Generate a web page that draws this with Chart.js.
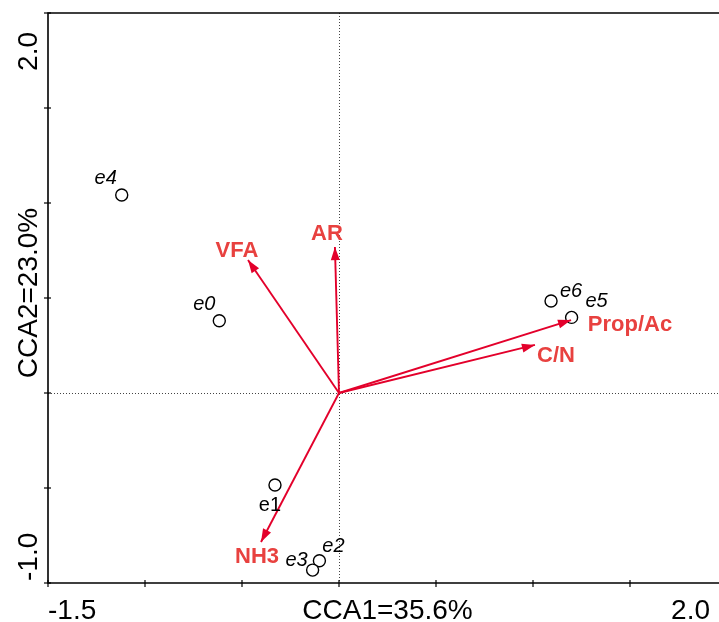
<!DOCTYPE html>
<html>
<head>
<meta charset="utf-8">
<script src="https://cdn.jsdelivr.net/npm/chart.js@4.4.1/dist/chart.umd.min.js"></script>
<style>
html,body{margin:0;padding:0;background:#fff;overflow:hidden;width:719px;height:622px;}
#wrap{width:740px;height:622px;}
canvas{display:block;}
</style>
</head>
<body>
<div id="wrap"><canvas id="c" width="740" height="622"></canvas></div>
<script>
// ---- data ----
const sites = ['e0','e1','e2','e3','e4','e5','e6'];
const siteX = [-0.617, -0.330, -0.101, -0.136, -1.120, 1.199, 1.093];
const siteY = [0.380, -0.484, -0.883, -0.932, 1.042, 0.398, 0.484];

const envVars = ['VFA','AR','Prop/Ac','C/N','NH3'];
const envX = [-0.469, -0.021, 1.196, 1.010, -0.402];
const envY = [0.700, 0.768, 0.384, 0.253, -0.784];

const xTicks = [-1.5, -1.0, -0.5, 0, 0.5, 1.0, 1.5, 2.0];
const yTicks = [-1.0, -0.5, 0, 0.5, 1.0, 1.5, 2.0];
const xTickLabels = ['-1.5', '2.0'];
const yTickLabels = ['-1.0', '2.0'];
const xTitle = 'CCA1=35.6%';
const yTitle = 'CCA2=23.0%';

// ---- styles (label offsets in px) ----
const siteLabelOffset = {e0:[-15,-16], e1:[-5,21], e2:[14,-14], e3:[-16,-10], e4:[-16,-17], e5:[25,-16], e6:[20,-10]};
const siteUpright = {e1:true};
const envLabelOffset = {'VFA':[-11,-9], 'AR':[-8,-13], 'Prop/Ac':[59,5], 'C/N':[21,11], 'NH3':[-4,15]};
const ARROW = '#e3002b';
const ENVTXT = '#e8413f';
const FONT = '"Liberation Sans", Arial, sans-serif';

const datasets = [];
envVars.forEach((n,i)=>{
  datasets.push({
    label: n, type:'scatter', showLine:true,
    data:[{x:0,y:0},{x:envX[i],y:envY[i]}],
    borderColor: ARROW, borderWidth: 1.9, pointRadius:0, fill:false
  });
});
datasets.push({
  label:'sites', type:'scatter',
  data: sites.map((s,i)=>({x:siteX[i], y:siteY[i]})),
  pointRadius:6, pointBackgroundColor:'#fff', pointBorderColor:'#000', pointBorderWidth:1.4
});

const decor = {
  id:'decor',
  beforeDatasetsDraw(chart){
    const {ctx, chartArea:a, scales:{x,y}} = chart;
    ctx.save();
    ctx.strokeStyle = '#444'; ctx.lineWidth = 1; ctx.setLineDash([1,2]);
    const x0 = Math.round(x.getPixelForValue(0))+0.5;
    const y0 = Math.round(y.getPixelForValue(0))+0.5;
    ctx.beginPath(); ctx.moveTo(x0, a.top); ctx.lineTo(x0, a.bottom); ctx.stroke();
    ctx.beginPath(); ctx.moveTo(a.left, y0); ctx.lineTo(a.right, y0); ctx.stroke();
    ctx.restore();
  },
  afterDatasetsDraw(chart){
    const {ctx, chartArea:a, scales:{x,y}} = chart;
    ctx.save();
    // arrowheads
    const ox = x.getPixelForValue(0), oy = y.getPixelForValue(0);
    envVars.forEach((n,i)=>{
      const tx = x.getPixelForValue(envX[i]), ty = y.getPixelForValue(envY[i]);
      const ang = Math.atan2(ty-oy, tx-ox);
      const L = 13, W = 4.5;
      ctx.fillStyle = ARROW;
      ctx.beginPath();
      ctx.moveTo(tx, ty);
      ctx.lineTo(tx - L*Math.cos(ang) + W*Math.sin(ang), ty - L*Math.sin(ang) - W*Math.cos(ang));
      ctx.lineTo(tx - L*Math.cos(ang) - W*Math.sin(ang), ty - L*Math.sin(ang) + W*Math.cos(ang));
      ctx.closePath(); ctx.fill();
      const off = envLabelOffset[n];
      ctx.font = 'bold 22px ' + FONT;
      ctx.fillStyle = ENVTXT; ctx.textAlign='center'; ctx.textBaseline='middle';
      ctx.fillText(n, tx+off[0], ty+off[1]);
    });
    // site labels
    sites.forEach((s,i)=>{
      const px = x.getPixelForValue(siteX[i]), py = y.getPixelForValue(siteY[i]);
      const off = siteLabelOffset[s];
      ctx.font = (siteUpright[s]?'':'italic ') + '20px ' + FONT;
      ctx.fillStyle = '#000'; ctx.textAlign='center'; ctx.textBaseline='middle';
      ctx.fillText(s, px+off[0], py+off[1]);
    });
    // frame
    ctx.strokeStyle = '#000'; ctx.lineWidth = 1.6; ctx.setLineDash([]);
    ctx.beginPath();
    ctx.moveTo(chart.width, a.top); ctx.lineTo(a.left, a.top); ctx.lineTo(a.left, a.bottom); ctx.lineTo(chart.width, a.bottom);
    ctx.stroke();
    ctx.lineWidth = 1.2;
    xTicks.forEach(v=>{
      const px = Math.round(x.getPixelForValue(v));
      ctx.beginPath(); ctx.moveTo(px, a.bottom-3); ctx.lineTo(px, a.bottom+4); ctx.stroke();
    });
    yTicks.forEach(v=>{
      const py = Math.round(y.getPixelForValue(v));
      ctx.beginPath(); ctx.moveTo(a.left-4, py); ctx.lineTo(a.left+3, py); ctx.stroke();
    });
    // tick labels
    ctx.fillStyle = '#000';
    ctx.font = '28px ' + FONT;
    ctx.textBaseline = 'alphabetic';
    const xb = 619;
    ctx.textAlign = 'left';
    ctx.fillText(xTickLabels[0], x.getPixelForValue(xTicks[0]), xb);
    ctx.textAlign = 'right';
    ctx.fillText(xTickLabels[1], x.getPixelForValue(xTicks[xTicks.length-1]) - 17, xb);
    ctx.textAlign = 'center';
    ctx.fillText(xTitle, (a.left + a.right)/2, xb);
    // y labels (rotated)
    const yb = 37;
    const drawRot = (txt, py, align) => {
      ctx.save(); ctx.translate(yb, py); ctx.rotate(-Math.PI/2);
      ctx.textAlign = align; ctx.fillText(txt, 0, 0); ctx.restore();
    };
    drawRot(yTickLabels[0], y.getPixelForValue(yTicks[0]) - 2, 'left');
    drawRot(yTickLabels[1], y.getPixelForValue(yTicks[yTicks.length-1]) + 19, 'right');
    drawRot(yTitle, (a.top + a.bottom)/2 - 5, 'center');
    ctx.restore();
  }
};

new Chart(document.getElementById('c'), {
  type:'scatter',
  data:{datasets},
  options:{
    responsive:false, animation:false, devicePixelRatio:1,
    layout:{padding:{left:48, top:13, right:13, bottom:39}},
    plugins:{legend:{display:false}, tooltip:{enabled:false}},
    scales:{
      x:{type:'linear', min:-1.5, max:2.0, display:false},
      y:{type:'linear', min:-1.0, max:2.0, display:false}
    }
  },
  plugins:[decor]
});
</script>
</body>
</html>
